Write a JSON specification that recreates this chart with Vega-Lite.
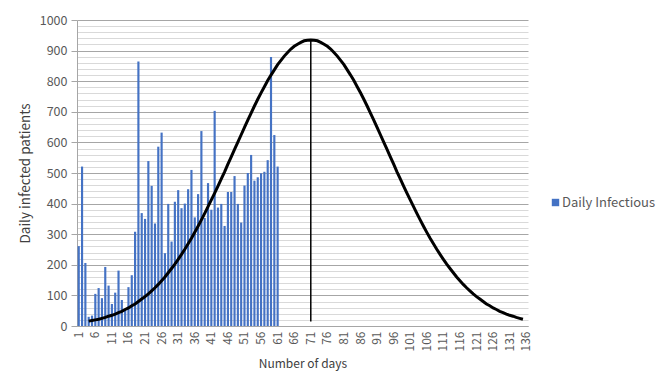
{
  "$schema": "https://vega.github.io/schema/vega-lite/v6.json",
  "width": 451,
  "height": 306,
  "autosize": {"type": "none"},
  "padding": {"left": 77, "top": 20, "right": 135, "bottom": 62},
  "background": "white",
  "config": {
    "view": {"stroke": null},
    "font": "Noto Sans CJK SC",
    "axis": {
      "labelColor": "#595959",
      "titleColor": "#404040",
      "labelFontSize": 12,
      "titleFontSize": 12,
      "titleFontWeight": "normal",
      "domainColor": "#a6a6a6",
      "tickColor": "#a6a6a6"
    },
    "legend": {"labelColor": "#595959", "labelFontSize": 13}
  },
  "datasets": {
    "bars": [
      {"day": 1, "value": 261}, {"day": 2, "value": 521}, {"day": 3, "value": 206}, {"day": 4, "value": 30},
      {"day": 5, "value": 34}, {"day": 6, "value": 105}, {"day": 7, "value": 124}, {"day": 8, "value": 91},
      {"day": 9, "value": 193}, {"day": 10, "value": 132}, {"day": 11, "value": 72}, {"day": 12, "value": 109},
      {"day": 13, "value": 181}, {"day": 14, "value": 85}, {"day": 15, "value": 56}, {"day": 16, "value": 127},
      {"day": 17, "value": 166}, {"day": 18, "value": 308}, {"day": 19, "value": 864}, {"day": 20, "value": 369},
      {"day": 21, "value": 350}, {"day": 22, "value": 539}, {"day": 23, "value": 458}, {"day": 24, "value": 335},
      {"day": 25, "value": 586}, {"day": 26, "value": 632}, {"day": 27, "value": 238}, {"day": 28, "value": 399},
      {"day": 29, "value": 276}, {"day": 30, "value": 406}, {"day": 31, "value": 444}, {"day": 32, "value": 385},
      {"day": 33, "value": 400}, {"day": 34, "value": 447}, {"day": 35, "value": 510}, {"day": 36, "value": 355},
      {"day": 37, "value": 431}, {"day": 38, "value": 637}, {"day": 39, "value": 353}, {"day": 40, "value": 467},
      {"day": 41, "value": 380}, {"day": 42, "value": 703}, {"day": 43, "value": 387}, {"day": 44, "value": 399},
      {"day": 45, "value": 327}, {"day": 46, "value": 438}, {"day": 47, "value": 438}, {"day": 48, "value": 490},
      {"day": 49, "value": 399}, {"day": 50, "value": 338}, {"day": 51, "value": 459}, {"day": 52, "value": 500},
      {"day": 53, "value": 559}, {"day": 54, "value": 475}, {"day": 55, "value": 486}, {"day": 56, "value": 499},
      {"day": 57, "value": 504}, {"day": 58, "value": 542}, {"day": 59, "value": 879}, {"day": 60, "value": 624},
      {"day": 61, "value": 521}
    ],
    "curve": [
      {"day": 4, "fit": 16}, {"day": 5, "fit": 18}, {"day": 6, "fit": 20}, {"day": 7, "fit": 22},
      {"day": 8, "fit": 25}, {"day": 9, "fit": 28}, {"day": 10, "fit": 32}, {"day": 11, "fit": 35},
      {"day": 12, "fit": 39}, {"day": 13, "fit": 44}, {"day": 14, "fit": 48}, {"day": 15, "fit": 54},
      {"day": 16, "fit": 59}, {"day": 17, "fit": 66}, {"day": 18, "fit": 72}, {"day": 19, "fit": 80},
      {"day": 20, "fit": 88}, {"day": 21, "fit": 96}, {"day": 22, "fit": 105}, {"day": 23, "fit": 115},
      {"day": 24, "fit": 125}, {"day": 25, "fit": 136}, {"day": 26, "fit": 148}, {"day": 27, "fit": 160},
      {"day": 28, "fit": 174}, {"day": 29, "fit": 188}, {"day": 30, "fit": 202}, {"day": 31, "fit": 218},
      {"day": 32, "fit": 234}, {"day": 33, "fit": 251}, {"day": 34, "fit": 269}, {"day": 35, "fit": 287},
      {"day": 36, "fit": 306}, {"day": 37, "fit": 326}, {"day": 38, "fit": 347}, {"day": 39, "fit": 368},
      {"day": 40, "fit": 390}, {"day": 41, "fit": 412}, {"day": 42, "fit": 434}, {"day": 43, "fit": 457},
      {"day": 44, "fit": 481}, {"day": 45, "fit": 504}, {"day": 46, "fit": 529}, {"day": 47, "fit": 553},
      {"day": 48, "fit": 577}, {"day": 49, "fit": 601}, {"day": 50, "fit": 625}, {"day": 51, "fit": 649},
      {"day": 52, "fit": 673}, {"day": 53, "fit": 696}, {"day": 54, "fit": 719}, {"day": 55, "fit": 741},
      {"day": 56, "fit": 762}, {"day": 57, "fit": 782}, {"day": 58, "fit": 802}, {"day": 59, "fit": 820},
      {"day": 60, "fit": 837}, {"day": 61, "fit": 854}, {"day": 62, "fit": 868}, {"day": 63, "fit": 882},
      {"day": 64, "fit": 894}, {"day": 65, "fit": 905}, {"day": 66, "fit": 914}, {"day": 67, "fit": 921},
      {"day": 68, "fit": 927}, {"day": 69, "fit": 932}, {"day": 70, "fit": 934}, {"day": 71, "fit": 935},
      {"day": 72, "fit": 934}, {"day": 73, "fit": 932}, {"day": 74, "fit": 927}, {"day": 75, "fit": 921},
      {"day": 76, "fit": 914}, {"day": 77, "fit": 905}, {"day": 78, "fit": 894}, {"day": 79, "fit": 882},
      {"day": 80, "fit": 868}, {"day": 81, "fit": 854}, {"day": 82, "fit": 837}, {"day": 83, "fit": 820},
      {"day": 84, "fit": 802}, {"day": 85, "fit": 782}, {"day": 86, "fit": 762}, {"day": 87, "fit": 741},
      {"day": 88, "fit": 719}, {"day": 89, "fit": 696}, {"day": 90, "fit": 673}, {"day": 91, "fit": 649},
      {"day": 92, "fit": 625}, {"day": 93, "fit": 601}, {"day": 94, "fit": 577}, {"day": 95, "fit": 553},
      {"day": 96, "fit": 529}, {"day": 97, "fit": 504}, {"day": 98, "fit": 481}, {"day": 99, "fit": 457},
      {"day": 100, "fit": 434}, {"day": 101, "fit": 412}, {"day": 102, "fit": 390}, {"day": 103, "fit": 368},
      {"day": 104, "fit": 347}, {"day": 105, "fit": 326}, {"day": 106, "fit": 306}, {"day": 107, "fit": 287},
      {"day": 108, "fit": 269}, {"day": 109, "fit": 251}, {"day": 110, "fit": 234}, {"day": 111, "fit": 218},
      {"day": 112, "fit": 202}, {"day": 113, "fit": 188}, {"day": 114, "fit": 174}, {"day": 115, "fit": 160},
      {"day": 116, "fit": 148}, {"day": 117, "fit": 136}, {"day": 118, "fit": 125}, {"day": 119, "fit": 115},
      {"day": 120, "fit": 105}, {"day": 121, "fit": 96}, {"day": 122, "fit": 88}, {"day": 123, "fit": 80},
      {"day": 124, "fit": 72}, {"day": 125, "fit": 66}, {"day": 126, "fit": 59}, {"day": 127, "fit": 54},
      {"day": 128, "fit": 48}, {"day": 129, "fit": 44}, {"day": 130, "fit": 39}, {"day": 131, "fit": 35},
      {"day": 132, "fit": 32}, {"day": 133, "fit": 28}, {"day": 134, "fit": 25}, {"day": 135, "fit": 22}
    ],
    "drop": [{"day": 71, "low": 15, "high": 935}]
  },
  "encoding": {
    "x": {
      "field": "day",
      "type": "ordinal",
      "scale": {
        "domain": [1,2,3,4,5,6,7,8,9,10,11,12,13,14,15,16,17,18,19,20,21,22,23,24,25,26,27,28,29,30,31,32,33,34,35,36,37,38,39,40,41,42,43,44,45,46,47,48,49,50,51,52,53,54,55,56,57,58,59,60,61,62,63,64,65,66,67,68,69,70,71,72,73,74,75,76,77,78,79,80,81,82,83,84,85,86,87,88,89,90,91,92,93,94,95,96,97,98,99,100,101,102,103,104,105,106,107,108,109,110,111,112,113,114,115,116,117,118,119,120,121,122,123,124,125,126,127,128,129,130,131,132,133,134,135,136],
        "paddingInner": 0.35,
        "paddingOuter": 0.2
      },
      "axis": {
        "title": "Number of days",
        "values": [1,6,11,16,21,26,31,36,41,46,51,56,61,66,71,76,81,86,91,96,101,106,111,116,121,126,131,136],
        "labelAngle": -90,
        "labelPadding": 5,
        "ticks": false,
        "titlePadding": 8,
        "titleFontSize": 12
      }
    }
  },
  "layer": [
    {
      "data": {"name": "bars"},
      "mark": {"type": "bar"},
      "encoding": {
        "y": {
          "field": "value",
          "type": "quantitative",
          "scale": {"domain": [0, 1000], "nice": false},
          "axis": {
            "title": "Daily infected patients",
            "titleFontSize": 13.5,
            "values": [0,100,200,300,400,500,600,700,800,900,1000],
            "format": "d",
            "labelFontSize": 12.5,
            "grid": true,
            "gridColor": "#a6a6a6",
            "gridWidth": 1,
            "tickSize": 6,
            "labelPadding": 4,
            "titlePadding": 7
          }
        },
        "color": {
          "datum": "Daily Infectious",
          "scale": {"range": ["#4472C4"]},
          "legend": {
            "title": null,
            "orient": "none",
            "legendX": 472,
            "legendY": 176,
            "symbolType": "square",
            "symbolSize": 55,
            "labelOffset": 0
          }
        }
      }
    },
    {
      "data": {"name": "curve"},
      "mark": {"type": "line", "color": "black", "strokeWidth": 3},
      "encoding": {
        "y": {
          "field": "fit",
          "type": "quantitative",
          "axis": {
            "orient": "left",
            "values": [20,40,60,80,120,140,160,180,220,240,260,280,320,340,360,380,420,440,460,480,520,540,560,580,620,640,660,680,720,740,760,780,820,840,860,880,920,940,960,980],
            "grid": true,
            "gridColor": "#d9d9d9",
            "labels": false,
            "ticks": false,
            "domain": false,
            "title": null
          }
        }
      }
    },
    {
      "data": {"name": "drop"},
      "mark": {"type": "rule", "color": "black", "strokeWidth": 1.5},
      "encoding": {
        "y": {"field": "low", "type": "quantitative", "axis": null},
        "y2": {"field": "high"}
      }
    }
  ],
  "resolve": {"axis": {"y": "independent"}}
}
